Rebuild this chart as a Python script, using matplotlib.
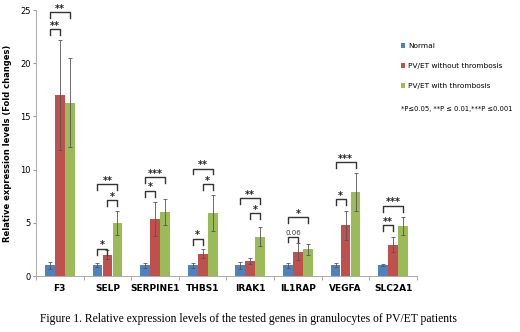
import numpy as np
import matplotlib.pyplot as plt

genes = ["F3", "SELP", "SERPINE1", "THBS1", "IRAK1", "IL1RAP", "VEGFA", "SLC2A1"]
normal = [1.0, 1.0, 1.0, 1.0, 1.0, 1.0, 1.0, 1.0]
normal_err = [0.3, 0.2, 0.25, 0.25, 0.3, 0.25, 0.2, 0.1]
pv_no = [17.0, 2.0, 5.4, 2.1, 1.4, 2.3, 4.75, 2.95]
pv_no_err = [5.2, 0.4, 1.6, 0.45, 0.25, 0.8, 1.4, 0.7]
pv_thr = [16.3, 5.0, 6.0, 5.9, 3.7, 2.5, 7.9, 4.7]
pv_thr_err = [4.2, 1.1, 1.2, 1.7, 0.9, 0.5, 1.8, 0.8]

# significance brackets: (gene index, bar a, bar b, height, label)
brackets = [
    (0, 0, 1, 23.2, "**"), (0, 0, 2, 24.8, "**"),
    (1, 0, 1, 2.55, "*"), (1, 1, 2, 7.1, "*"), (1, 0, 2, 8.6, "**"),
    (2, 0, 1, 8.0, "*"), (2, 0, 2, 9.3, "***"),
    (3, 0, 1, 3.5, "*"), (3, 1, 2, 8.6, "*"), (3, 0, 2, 10.1, "**"),
    (4, 1, 2, 5.9, "*"), (4, 0, 2, 7.3, "**"),
    (5, 0, 1, 3.7, "0.06"), (5, 0, 2, 5.5, "*"),
    (6, 0, 1, 7.2, "*"), (6, 0, 2, 10.7, "***"),
    (7, 0, 1, 4.8, "**"), (7, 0, 2, 6.6, "***"),
]

colors = ["#4F81BD", "#C0504D", "#9BBB59"]
labels = ["Normal", "PV/ET without thrombosis", "PV/ET with thrombosis"]

fig = plt.figure(figsize=(5.2, 3.32), dpi=100)
ax = fig.add_axes([36 / 520, 1 - 276 / 332, 381 / 520, 266 / 332])

x = np.arange(len(genes))
w = 0.21
offsets = [-w, 0, w]
series = [(normal, normal_err), (pv_no, pv_no_err), (pv_thr, pv_thr_err)]
for i, (vals, errs) in enumerate(series):
    ax.bar(x + offsets[i], vals, w * 0.98, color=colors[i], label=labels[i],
           yerr=errs, error_kw=dict(ecolor="#555555", elinewidth=0.6, capsize=1.5, capthick=0.6))

for g, a, b, h, txt in brackets:
    xa = x[g] + offsets[a]
    xb = x[g] + offsets[b]
    ax.plot([xa, xa, xb, xb], [h - 0.55, h, h, h - 0.55], color="#333333", lw=1.0)
    if txt == "0.06":
        ax.text((xa + xb) / 2, h + 0.05, txt, ha="center", va="bottom", fontsize=5, color="#333333")
    else:
        ax.text((xa + xb) / 2, h - 0.15, txt, ha="center", va="bottom", fontsize=7,
                fontweight="bold", color="#222222")

ax.set_xlim(-0.5, len(genes) - 0.5)
ax.set_ylim(0, 25)
ax.set_yticks([0, 5, 10, 15, 20, 25])
ax.set_xticks(x)
ax.set_xticklabels(genes, fontsize=6.5, fontweight="bold")
ax.set_xticks(np.arange(len(genes) + 1) - 0.5, minor=True)
ax.tick_params(axis="x", which="major", length=0, pad=6)
ax.tick_params(axis="x", which="minor", length=3, color="#999999")
ax.tick_params(axis="y", labelsize=6, length=2, color="#999999", pad=2)
for s in ["top", "right"]:
    ax.spines[s].set_visible(False)
for s in ["left", "bottom"]:
    ax.spines[s].set_color("#AAAAAA")
    ax.spines[s].set_linewidth(0.7)
ax.set_ylabel("Relative expression levels (Fold changes)", fontsize=6, fontweight="bold", labelpad=6)

leg = fig.legend(loc="upper left", bbox_to_anchor=(398 / 520, 1 - 40 / 332), frameon=False,
                 fontsize=5.3, handlelength=0.6, handleheight=0.6, handletextpad=0.4,
                 labelspacing=1.9, borderaxespad=0)
fig.text(401 / 520, 1 - 109 / 332, "*P\u22640.05, **P \u2264 0.01,***P \u22640.001",
         fontsize=4.9, va="center")

fig.text(40 / 520, 1 - 319 / 332,
         "Figure 1. Relative expression levels of the tested genes in granulocytes of PV/ET patients",
         fontsize=8.4, family="Liberation Serif", va="center")

fig.savefig("out.png", dpi=100)
